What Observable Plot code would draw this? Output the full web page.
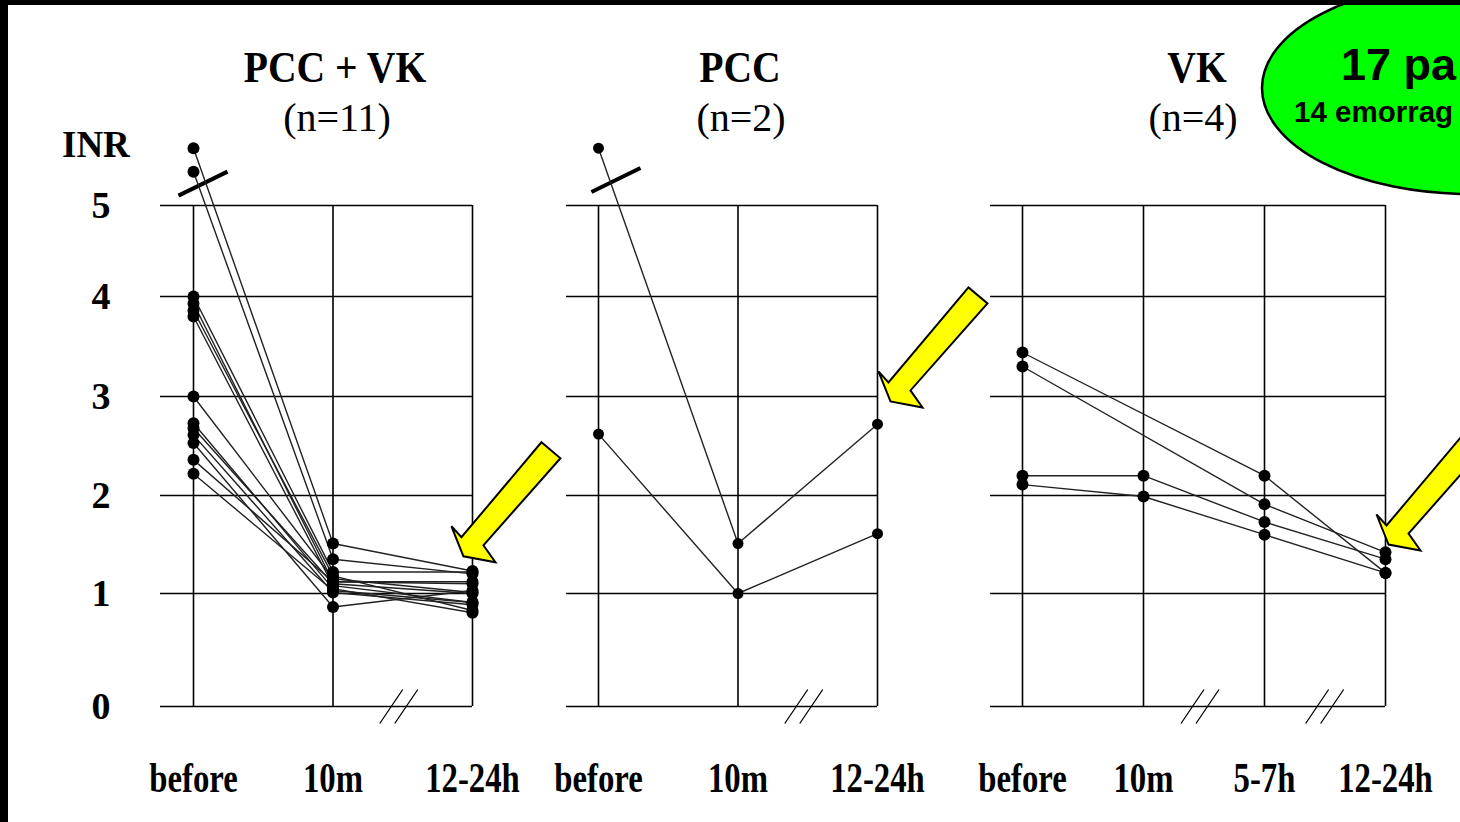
<!DOCTYPE html>
<html><head><meta charset="utf-8">
<script src="https://cdn.jsdelivr.net/npm/d3@7"></script>
<script src="https://cdn.jsdelivr.net/npm/@observablehq/plot@0.6"></script>
<style>
html,body{margin:0;padding:0;background:#000;}
#stage{position:relative;width:1460px;height:822px;overflow:hidden;background:#000;}
#paper{position:absolute;left:8px;top:5px;right:0;bottom:0;background:#fff;}
#stage svg{position:absolute;left:0;top:0;}
</style></head>
<body><div id="stage"><div id="paper"></div></div>
<script>
// ---------- DATA ----------
const yTicks = [0, 1, 2, 3, 4, 5];

// Panel 1: PCC + VK (values above 5 are drawn beyond the axis break)
const pccvkTimes  = ["before", "10m", "12-24h"];
const pccvkBefore = [5.63, 5.37, 4.0, 3.93, 3.86, 3.8, 3.0, 2.73, 2.68, 2.61, 2.53, 2.36, 2.22];
const pccvkMin10  = [1.51, 1.35, 1.22, 1.12, 1.18, 1.08, 1.15, 1.05, 1.10, 1.01, 0.88, 1.12, 1.03];
const pccvkLate   = [1.23, 1.20, 1.22, 1.12, 0.85, 0.92, 1.01, 0.83, 1.00, 0.90, 1.03, 1.10, 0.92];

// Panel 2: PCC
const pccTimes  = ["before", "10m", "12-24h"];
const pccBefore = [5.63, 2.62];
const pccMin10  = [1.51, 1.00];
const pccLate   = [2.72, 1.61];

// Panel 3: VK (null = not measured at that time)
const vkTimes  = ["before", "10m", "5-7h", "12-24h"];
const vkBefore = [3.44, 3.30, 2.20, 2.11];
const vkMin10  = [null, null, 2.20, 1.99];
const vkH57    = [2.20, 1.91, 1.73, 1.60];
const vkLate   = [1.21, 1.42, 1.35, 1.21];

// Titles (the bubble text is cut by the slide edge in the original)
const panelTitles = ["PCC + VK", "PCC", "VK"];
const panelCounts = ["(n=11)", "(n=2)", "(n=4)"];
const bubbleLines = ["17 pa", "14 emorrag"];

// Annotations (in data units: x = time index, y = INR)
const pccvkArrows = [{x: 1.935, y: 1.38}];
const pccArrows   = [{x: 2.093, y: 2.95}];
const vkArrows    = [{x: 3.025, y: 1.50}];
const pccvkTopBreak = [{x: 0.068, y: 5.24}];
const pccTopBreak   = [{x: 0.125, y: 5.28}];
const pccvkAxisBreaks = [1.5];
const pccAxisBreaks   = [1.5];
const vkAxisBreaks    = [1.5, 2.53];

// ---------- SYMBOLS ----------
const blockArrow = {draw(ctx) {
  const p = [[0,0],[-12,-30],[-2,-19],[78,-114],[97,-98],[20,-11],[32,6]];
  ctx.moveTo(p[0][0], p[0][1]);
  for (let i = 1; i < p.length; i++) ctx.lineTo(p[i][0], p[i][1]);
  ctx.closePath();
}};
const slash = {draw(ctx) { ctx.moveTo(-24.5, 12); ctx.lineTo(24.5, -12); }};
const doubleSlash = {draw(ctx) {
  ctx.moveTo(-23, 17); ctx.lineTo(0, -17);
  ctx.moveTo(-8, 17); ctx.lineTo(15, -17);
}};

// ---------- BUILD ----------
const yScale = {type: "linear", domain: yTicks, range: [706, 593, 495, 396, 296, 205]};
const serif = "'Liberation Serif', 'Times New Roman', serif";

function buildRows(cols) {
  const rows = [];
  cols.forEach((vals, t) => vals.forEach((v, i) => { if (v != null) rows.push({id: i, t, inr: v}); }));
  return rows;
}

function panel(cfg) {
  const n = cfg.labels.length;
  const idx = d3.range(n);
  const rows = buildRows(cfg.cols);
  const marks = [
    Plot.ruleY(yTicks, {x1: 0, x2: n - 1, insetLeft: -cfg.gridInset, stroke: "#000", strokeWidth: 1.6}),
    Plot.ruleX(idx, {y1: 0, y2: 5, stroke: "#000", strokeWidth: 1.6}),
    Plot.dot(cfg.axisBreaks, {x: d => d, y: () => 0, symbol: doubleSlash, r: 10, fill: "none", stroke: "#000", strokeWidth: 1.3}),
    Plot.dot(cfg.topBreaks, {x: "x", y: "y", symbol: slash, r: 10, fill: "none", stroke: "#000", strokeWidth: 4}),
    Plot.line(rows, {x: "t", y: "inr", z: "id", stroke: "#222", strokeWidth: 1.4}),
    Plot.dot(rows, {x: "t", y: "inr", r: cfg.r, fill: "#000"}),
    Plot.dot(cfg.arrows, {x: "x", y: "y", symbol: blockArrow, r: 10, fill: "#ffff00", stroke: "#000", strokeWidth: 2, strokeLinejoin: "miter"}),
    Plot.axisX({ticks: idx, tickFormat: i => cfg.labels[i], tickSize: 0, tickPadding: 56, fontSize: 42, fontWeight: "bold", label: null})
  ];
  if (cfg.yAxis) marks.push(Plot.axisY({ticks: yTicks, tickFormat: d3.format("d"), tickSize: 0, tickPadding: 18, fontSize: 38, fontWeight: "bold", label: null}));
  const svg = Plot.plot({
    width: 1460, height: 822,
    marginLeft: 128, marginBottom: 116, marginTop: 0, marginRight: 0,
    x: {type: "linear", domain: [0, n - 1], range: cfg.xRange},
    y: cfg.yAxis ? yScale : {...yScale, axis: null},
    style: {background: "transparent", fontFamily: serif, color: "#000", overflow: "visible"},
    marks
  });
  // condense the x tick labels like the original slide font
  svg.querySelectorAll('g[aria-label="x-axis tick label"] text').forEach(t => {
    const tr = t.getAttribute("transform");
    if (tr) t.setAttribute("transform", tr + " scale(0.78,1)");
    else {
      const x = +t.getAttribute("x") || 0, y = +t.getAttribute("y") || 0;
      t.removeAttribute("x"); t.removeAttribute("y");
      t.setAttribute("transform", `translate(${x},${y}) scale(0.78,1)`);
    }
  });
  return svg;
}

const stage = document.getElementById("stage");
stage.appendChild(panel({labels: pccvkTimes, cols: [pccvkBefore, pccvkMin10, pccvkLate], xRange: [193, 472], gridInset: 33,
  arrows: pccvkArrows, topBreaks: pccvkTopBreak, axisBreaks: pccvkAxisBreaks, r: 6, yAxis: true}));
stage.appendChild(panel({labels: pccTimes, cols: [pccBefore, pccMin10, pccLate], xRange: [598, 877], gridInset: 32,
  arrows: pccArrows, topBreaks: pccTopBreak, axisBreaks: pccAxisBreaks, r: 5.5, yAxis: false}));
stage.appendChild(panel({labels: vkTimes, cols: [vkBefore, vkMin10, vkH57, vkLate], xRange: [1022, 1385], gridInset: 32,
  arrows: vkArrows, topBreaks: [], axisBreaks: vkAxisBreaks, r: 6, yAxis: false}));

// ---------- OVERLAY: titles, INR label, bubble, slide border ----------
const ov = d3.create("svg").attr("width", 1460).attr("height", 822);
function addText(x, y, s, size, weight, sx, family, anchor) {
  ov.append("text").attr("transform", `translate(${x},${y}) scale(${sx},1)`)
    .attr("text-anchor", anchor || "middle").attr("font-family", family || serif)
    .attr("font-size", size).attr("font-weight", weight).attr("fill", "#000").text(s);
}
const titleX = [335, 740, 1197], countX = [337, 741, 1193];
panelTitles.forEach((s, i) => addText(titleX[i], 82, s, 45, "bold", 0.88));
panelCounts.forEach((s, i) => addText(countX[i], 131, s, 40, "normal", 1));
addText(62, 157, "INR", 37, "bold", 1, serif, "start");

ov.append("ellipse").attr("cx", 1470).attr("cy", 88).attr("rx", 208).attr("ry", 106)
  .attr("fill", "#00ff00").attr("stroke", "#000").attr("stroke-width", 2.5);
addText(1341, 80, bubbleLines[0], 45, "bold", 1, "'Liberation Sans', Arial, sans-serif", "start");
addText(1294, 122, bubbleLines[1], 29.5, "bold", 1, "'Liberation Sans', Arial, sans-serif", "start");
ov.append("rect").attr("x", 0).attr("y", 0).attr("width", 1460).attr("height", 5).attr("fill", "#000");
ov.append("rect").attr("x", 0).attr("y", 0).attr("width", 8).attr("height", 822).attr("fill", "#000");
stage.appendChild(ov.node());
</script>
</body></html>
